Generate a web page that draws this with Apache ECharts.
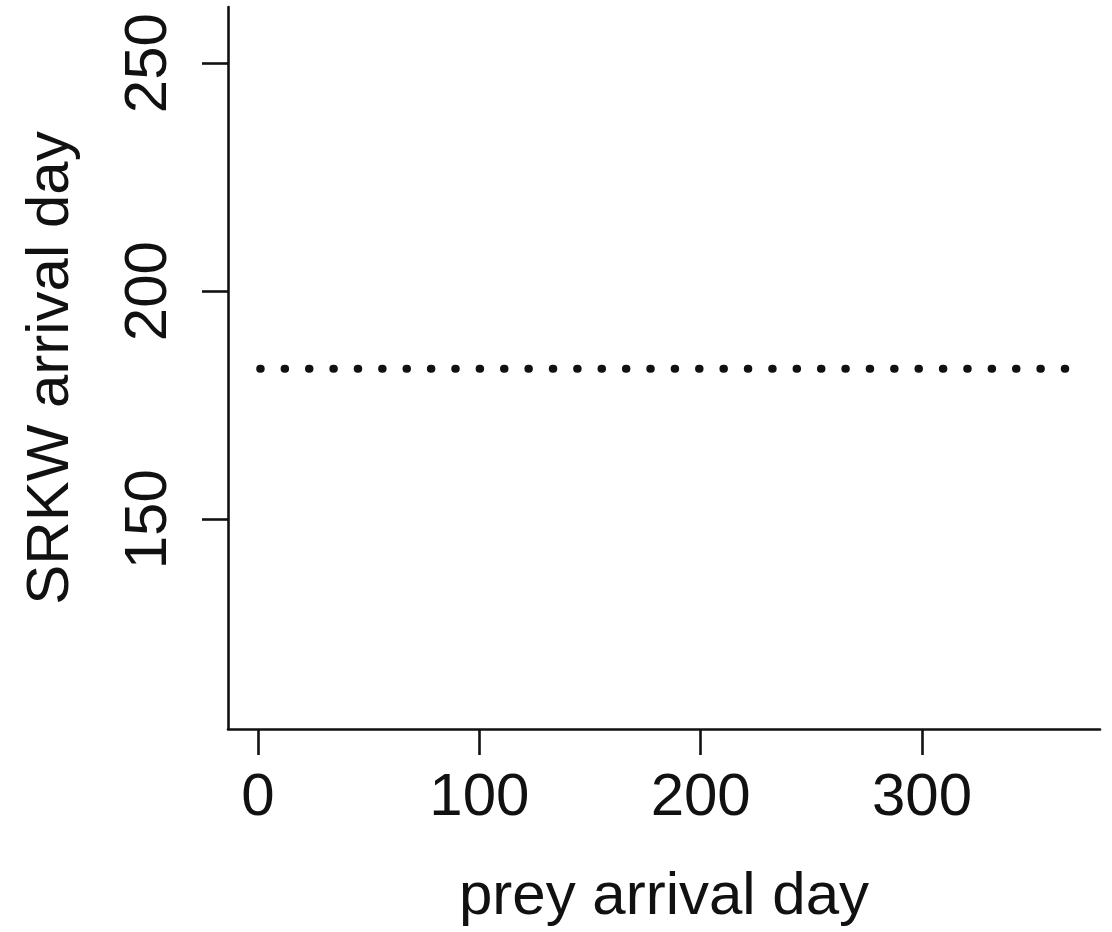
<!DOCTYPE html>
<html>
<head>
<meta charset="utf-8">
<title>SRKW arrival day vs prey arrival day</title>
<script src="https://cdn.jsdelivr.net/npm/echarts@6/dist/echarts.min.js"></script>
<style>
  html, body { margin: 0; padding: 0; background: #ffffff; }
  #chart { width: 1112px; height: 932px; }
</style>
</head>
<body>
<div id="chart"></div>
<script>
// Prey arrival days spanned by the reference line, and the constant SRKW arrival day
const preyDays = [1, 365];
const srkwDays = [183, 183];

// Tick values drawn on each axis
const xTicks = [0, 100, 200, 300];
const yTicks = [150, 200, 250];

// Axis titles
const xTitle = 'prey arrival day';
const yTitle = 'SRKW arrival day';

const FONT = '"Liberation Sans", Arial, Helvetica, sans-serif';
const INK = '#111111';

const chart = echarts.init(document.getElementById('chart'), null, { renderer: 'canvas' });

const axisCommon = {
  type: 'value',
  splitLine: { show: false },
  axisLine: { show: true, onZero: false, lineStyle: { color: INK, width: 2.6 } },
  axisTick: { show: true, inside: false, length: 26, lineStyle: { color: INK, width: 2.6 } },
  nameLocation: 'middle',
  nameTextStyle: { color: INK, fontFamily: FONT, fontSize: 60, lineHeight: 60 }
};

chart.setOption({
  animation: false,
  backgroundColor: '#ffffff',
  grid: { left: 228, right: 12, top: 7, bottom: 200, containLabel: false },
  xAxis: Object.assign({}, axisCommon, {
    min: -13.55,
    max: 380.4,
    name: xTitle,
    nameGap: 138,
    axisTick: Object.assign({}, axisCommon.axisTick, { customValues: xTicks }),
    axisLabel: {
      customValues: xTicks,
      color: INK, fontFamily: FONT, fontSize: 60, lineHeight: 60, margin: 39
    }
  }),
  yAxis: Object.assign({}, axisCommon, {
    min: 104,
    max: 262.3,
    name: yTitle,
    nameGap: 147,
    axisTick: Object.assign({}, axisCommon.axisTick, { customValues: yTicks }),
    axisLabel: {
      customValues: yTicks,
      rotate: 90,
      color: INK, fontFamily: FONT, fontSize: 60, lineHeight: 60, margin: 49
    }
  }),
  series: [{
    type: 'line',
    data: preyDays.map((d, i) => [d, srkwDays[i]]),
    symbol: 'none',
    silent: true,
    lineStyle: { color: INK, width: 8, cap: 'round', type: [0.5, 23.88] }
  }]
});
</script>
</body>
</html>
